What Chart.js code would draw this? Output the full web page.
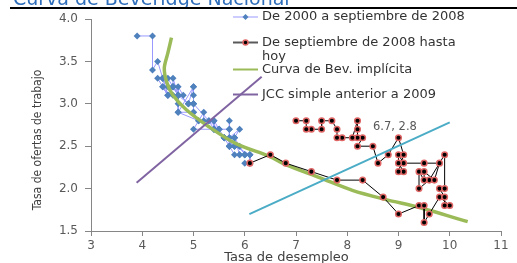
<!DOCTYPE html>
<html>
<head>
<meta charset="utf-8">
<script src="https://cdn.jsdelivr.net/npm/chart.js@4.4.1/dist/chart.umd.min.js"></script>
<style>
html, body { margin: 0; padding: 0; overflow: hidden; background: #fff; }
#wrap { position: relative; width: 517px; height: 275px; }
#title {
    position: absolute; left: 13px; top: -11px; margin: 0; z-index: 2;
    font: 19px/19px "DejaVu Sans", sans-serif; color: #2f6eba; white-space: nowrap;
}
#rule {
    position: absolute; left: 10px; top: 7px; width: 507px; height: 0;
    border-top: 2px solid #000; z-index: 3;
}
canvas { position: absolute; left: 0; top: 0; z-index: 1; }
</style>
</head>
<body>
<div id="wrap">
  <canvas id="beveridgeChart" width="517" height="275"></canvas>
  <div id="title">Curva de Beveridge Nacional</div>
  <div id="rule"></div>
</div>
<script>
// De 2000 a septiembre de 2008 (desempleo, ofertas)
const blueX = [3.9, 4.2, 4.2, 4.3, 4.4, 4.3, 4.5, 4.6, 4.9, 5.0, 5.3, 5.5, 5.7,
    5.7, 5.7, 5.7, 5.9, 5.8, 5.8, 5.8, 5.7, 5.7, 5.7, 5.9, 6.0,
    5.8, 5.9, 5.9, 6.0, 6.1, 6.1, 6.0, 6.1, 6.1, 6.0, 5.8, 5.7,
    5.7, 5.6, 5.8, 5.6, 5.6, 5.6, 5.5, 5.4, 5.4, 5.5, 5.4, 5.4,
    5.3, 5.4, 5.2, 5.2, 5.1, 5.0, 5.0, 4.9, 5.0, 5.0, 5.0, 4.9,
    4.7, 4.8, 4.7, 4.7, 4.6, 4.6, 4.7, 4.7, 4.5, 4.4, 4.5, 4.4,
    4.6, 4.5, 4.4, 4.5, 4.4, 4.6, 4.7, 4.6, 4.7, 4.7, 4.7, 5.0,
    5.0, 4.7, 5.1, 5.0, 5.4, 5.6, 5.8, 6.1];
const blueY = [3.8, 3.8, 3.4, 3.5, 3.3, 3.3, 3.1, 3.2, 3.0, 3.0, 2.8, 2.7, 2.7,
    2.7, 2.8, 2.6, 2.7, 2.6, 2.5, 2.6, 2.6, 2.5, 2.5, 2.5, 2.4,
    2.6, 2.4, 2.4, 2.4, 2.4, 2.3, 2.3, 2.3, 2.4, 2.4, 2.4, 2.5,
    2.5, 2.6, 2.5, 2.6, 2.6, 2.6, 2.7, 2.7, 2.7, 2.7, 2.8, 2.7,
    2.8, 2.8, 2.8, 2.9, 2.8, 2.9, 3.0, 3.0, 3.0, 3.1, 3.2, 3.0,
    3.1, 3.1, 3.2, 3.1, 3.2, 3.3, 3.1, 3.1, 3.3, 3.3, 3.1, 3.2,
    3.2, 3.2, 3.3, 3.1, 3.2, 3.2, 3.1, 3.1, 3.0, 3.1, 2.9, 2.9,
    3.2, 2.9, 2.8, 2.7, 2.7, 2.6, 2.5, 2.4];

// De septiembre de 2008 hasta hoy
const redX = [6.1, 6.5, 6.8, 7.3, 7.8, 8.3, 8.7, 9.0, 9.4, 9.5, 9.5, 9.6, 9.8, 10.0,
    9.9, 9.9, 9.8, 9.9, 9.9, 9.6, 9.4, 9.4, 9.5, 9.5, 9.7, 9.8, 9.5, 9.1,
    9.0, 9.0, 9.1, 9.0, 9.1, 9.0, 8.8, 8.6, 8.5, 8.2, 8.3, 8.2, 8.2, 8.2,
    8.1, 7.9, 7.8, 7.8, 7.7, 7.5, 7.5, 7.3, 7.2, 7.2, 7.0];
const redY = [2.3, 2.4, 2.3, 2.2, 2.1, 2.1, 1.9, 1.7, 1.8, 1.8, 1.6, 1.7, 1.9, 1.8,
    1.8, 1.9, 2.0, 2.0, 2.4, 2.1, 2.0, 2.2, 2.1, 2.2, 2.1, 2.3, 2.3, 2.3,
    2.4, 2.3, 2.2, 2.2, 2.4, 2.6, 2.4, 2.3, 2.5, 2.5, 2.6, 2.6, 2.7, 2.8,
    2.6, 2.6, 2.6, 2.7, 2.8, 2.8, 2.7, 2.7, 2.7, 2.8, 2.8];

// Curva de Bev. implícita
const greenX = [4.57, 4.5, 4.43, 4.48, 4.6, 4.86, 5.3, 5.83, 6.48, 6.81, 7.46, 8.1, 8.76, 9.39, 10.35];
const greenY = [3.78, 3.6, 3.42, 3.25, 3.1, 2.93, 2.73, 2.53, 2.38, 2.28, 2.13, 1.98, 1.87, 1.78, 1.61];

// JCC simple anterior a 2009
const purpleX = [3.89, 6.33];
const purpleY = [2.07, 3.32];

// JCC posterior (sin leyenda)
const cyanX = [6.09, 10.0];
const cyanY = [1.70, 2.78];

const xTicks = [3, 4, 5, 6, 7, 8, 9, 10, 11];
const xTickLabels = ['3', '4', '5', '6', '7', '8', '9', '10', '11'];
const yTicks = [1.5, 2.0, 2.5, 3.0, 3.5, 4.0];
const yTickLabels = ['1.5', '2.0', '2.5', '3.0', '3.5', '4.0'];

const seriesNames = ['De 2000 a septiembre de 2008', 'De septiembre de 2008 hasta', 'hoy',
    'Curva de Bev. implícita', 'JCC simple anterior a 2009'];
const lastLabel = '6.7, 2.8';

function pts(xs, ys) {
    return xs.map((x, i) => ({x: x, y: ys[i]}));
}

const font = '"DejaVu Sans", sans-serif';

const overlay = {
    id: 'overlay',
    afterDraw(chart) {
        const ctx = chart.ctx;
        const sx = chart.scales.x, sy = chart.scales.y;
        ctx.save();

        // titulos de ejes
        ctx.fillStyle = '#404040';
        ctx.font = '13px ' + font;
        ctx.textAlign = 'center';
        ctx.textBaseline = 'alphabetic';
        ctx.fillText('Tasa de desempleo', 286.5, 260.5);

        ctx.save();
        ctx.translate(41, 140);
        ctx.rotate(-Math.PI / 2);
        ctx.font = '12px "Liberation Sans Narrow", "DejaVu Sans Condensed", sans-serif';
        ctx.fillText('Tasa de ofertas de trabajo', 0, 0);
        ctx.restore();

        // etiqueta del ultimo punto
        ctx.fillStyle = '#595959';
        ctx.font = '11.5px ' + font;
        ctx.textBaseline = 'middle';
        ctx.fillText(lastLabel, sx.getPixelForValue(8.93), sy.getPixelForValue(2.73));

        // leyenda
        ctx.textAlign = 'left';
        ctx.font = '13px ' + font;
        const lx0 = 233, lx1 = 258, tx = 262;
        const rows = [17, 42.5, 69.5, 94.5];

        ctx.strokeStyle = '#9999ff';
        ctx.lineWidth = 1;
        ctx.beginPath(); ctx.moveTo(lx0, rows[0]); ctx.lineTo(lx1, rows[0]); ctx.stroke();
        ctx.fillStyle = '#4f81bd';
        ctx.beginPath();
        ctx.moveTo(245.5, rows[0] - 3); ctx.lineTo(248.5, rows[0]);
        ctx.lineTo(245.5, rows[0] + 3); ctx.lineTo(242.5, rows[0]);
        ctx.closePath(); ctx.fill();

        ctx.strokeStyle = '#595959';
        ctx.lineWidth = 2;
        ctx.beginPath(); ctx.moveTo(lx0, rows[1]); ctx.lineTo(lx1, rows[1]); ctx.stroke();
        ctx.fillStyle = '#000';
        ctx.strokeStyle = '#e06666';
        ctx.lineWidth = 1.5;
        ctx.beginPath(); ctx.arc(245.5, rows[1], 2.5, 0, Math.PI * 2); ctx.fill(); ctx.stroke();

        ctx.strokeStyle = '#9bbb59';
        ctx.lineWidth = 2;
        ctx.beginPath(); ctx.moveTo(lx0, rows[2]); ctx.lineTo(lx1, rows[2]); ctx.stroke();

        ctx.strokeStyle = '#8064a2';
        ctx.beginPath(); ctx.moveTo(lx0, rows[3]); ctx.lineTo(lx1, rows[3]); ctx.stroke();

        ctx.fillStyle = '#333333';
        ctx.fillText(seriesNames[0], tx, rows[0]);
        ctx.fillText(seriesNames[1], tx, rows[1]);
        ctx.fillText(seriesNames[2], tx, rows[1] + 14.5);
        ctx.fillText(seriesNames[3], tx, rows[2]);
        ctx.fillText(seriesNames[4], tx, rows[3]);

        ctx.restore();
    }
};

const axisColor = '#868686';
const tickFont = {family: 'DejaVu Sans', size: 12};

new Chart(document.getElementById('beveridgeChart'), {
    type: 'scatter',
    data: {
        datasets: [{
            label: seriesNames[0],
            data: pts(blueX, blueY),
            showLine: true,
            borderColor: '#9999ff',
            borderWidth: 1,
            pointStyle: 'rectRot',
            pointRadius: 3.5,
            pointBackgroundColor: '#4f81bd',
            pointBorderColor: '#4f81bd',
            pointBorderWidth: 0,
            order: 5
        }, {
            label: seriesNames[3],
            data: pts(greenX, greenY),
            showLine: true,
            borderColor: '#9bbb59',
            borderWidth: 3.5,
            tension: 0.3,
            pointRadius: 0,
            order: 4
        }, {
            label: seriesNames[1] + ' ' + seriesNames[2],
            data: pts(redX, redY),
            showLine: true,
            borderColor: '#000',
            borderWidth: 1,
            pointRadius: 2.8,
            pointBackgroundColor: '#000',
            pointBorderColor: '#e06666',
            pointBorderWidth: 1.5,
            order: 3
        }, {
            label: seriesNames[4],
            data: pts(purpleX, purpleY),
            showLine: true,
            borderColor: '#8064a2',
            borderWidth: 2,
            pointRadius: 0,
            order: 2
        }, {
            label: '',
            data: pts(cyanX, cyanY),
            showLine: true,
            borderColor: '#4bacc6',
            borderWidth: 2,
            pointRadius: 0,
            order: 1
        }]
    },
    options: {
        responsive: false,
        animation: false,
        devicePixelRatio: 1,
        layout: {padding: {top: 19, right: 16, left: 0, bottom: 0}},
        plugins: {
            legend: {display: false},
            tooltip: {enabled: false}
        },
        scales: {
            x: {
                type: 'linear',
                min: 3,
                max: 11,
                border: {color: axisColor, width: 1},
                grid: {drawOnChartArea: false, tickLength: 5, color: axisColor},
                ticks: {
                    font: tickFont,
                    color: '#595959',
                    padding: 3,
                    autoSkip: false,
                    maxRotation: 0,
                    callback: v => xTickLabels[xTicks.indexOf(v)]
                },
                afterBuildTicks: s => { s.ticks = xTicks.map(v => ({value: v})); },
                afterFit: s => { s.height = 44; }
            },
            y: {
                type: 'linear',
                min: 1.5,
                max: 4.0,
                border: {color: axisColor, width: 1},
                grid: {drawOnChartArea: false, tickLength: 6, color: axisColor},
                ticks: {
                    font: tickFont,
                    color: '#595959',
                    padding: 7,
                    callback: v => yTickLabels[yTicks.indexOf(v)]
                },
                afterBuildTicks: s => { s.ticks = yTicks.map(v => ({value: v})); },
                afterFit: s => { s.width = 91; }
            }
        }
    },
    plugins: [overlay]
});
</script>
</body>
</html>
